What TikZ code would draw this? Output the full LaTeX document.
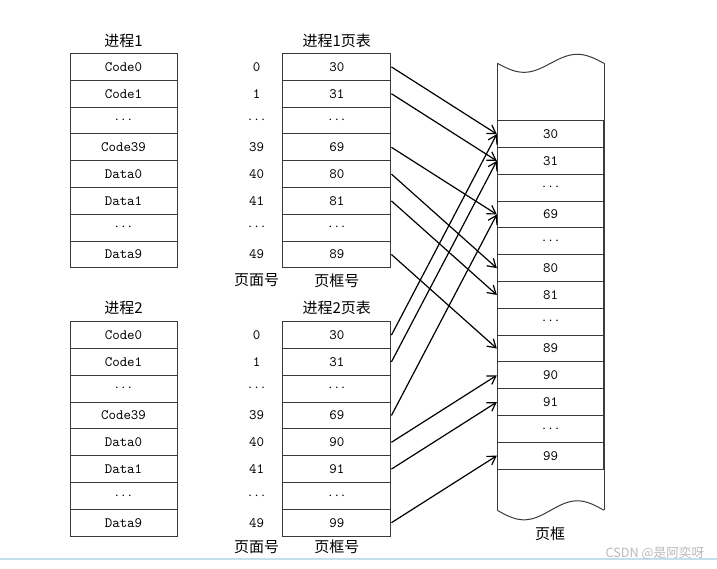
\documentclass[tikz,border=0pt]{standalone}
\usepackage{fontspec}
\newfontfamily\cjk{Noto Sans CJK SC}
\usetikzlibrary{arrows.meta}
\definecolor{linec}{HTML}{3A3A3A}
\definecolor{wmline}{HTML}{C3DFEF}
\begin{document}
\begin{tikzpicture}[x=0.75pt,y=-0.75pt,
  cell/.style={draw=linec,line width=0.75pt,minimum height=20.1pt,inner sep=0pt,
               font=\fontsize{10.7}{12}\selectfont\ttfamily},
  pbox/.style={cell,minimum width=80.25pt},
  tbox/.style={cell,minimum width=81.2pt},
  fbox/.style={cell,minimum width=80pt},
  lbl/.style={inner sep=0pt,font=\fontsize{10.7}{12}\selectfont\ttfamily},
  title/.style={inner sep=0pt,font=\fontsize{11.25}{13}\selectfont\cjk},
  map/.style={draw=black,line width=0.9pt,-{Straight Barb[length=6pt,width=7.5pt]}},
  edge/.style={draw=linec,line width=0.75pt}]
\useasboundingbox (0,0) rectangle (717,568);

% ---------- process 1 ----------
\node[title] (p1t) at (123.5,40.7) {进程1};
\foreach \t [count=\i from 0] in {Code0,Code1,$\cdots$,Code39,Data0,Data1,$\cdots$,Data9}
  \node[pbox] (p1-\i) at (123.5,{66.9+26.8*\i}) {\t};
\node[title] (t1t) at (336.8,40.7) {进程1页表};
\foreach \t [count=\i from 0] in {0,1,$\cdots$,39,40,41,$\cdots$,49}
  \node[lbl] (n1-\i) at (256.7,{66.9+26.8*\i}) {\t};
\foreach \t [count=\i from 0] in {30,31,$\cdots$,69,80,81,$\cdots$,89}
  \node[tbox] (t1-\i) at (336.8,{66.9+26.8*\i}) {\t};
\node[title] (pn1) at (256.7,280.5) {页面号};
\node[title] (fn1) at (336.8,280.5) {页框号};

% ---------- process 2 ----------
\node[title] (p2t) at (123.5,308.3) {进程2};
\foreach \t [count=\i from 0] in {Code0,Code1,$\cdots$,Code39,Data0,Data1,$\cdots$,Data9}
  \node[pbox] (p2-\i) at (123.5,{335.1+26.8*\i}) {\t};
\node[title] (t2t) at (336.8,308.3) {进程2页表};
\foreach \t [count=\i from 0] in {0,1,$\cdots$,39,40,41,$\cdots$,49}
  \node[lbl] (n2-\i) at (256.7,{335.1+26.8*\i}) {\t};
\foreach \t [count=\i from 0] in {30,31,$\cdots$,69,90,91,$\cdots$,99}
  \node[tbox] (t2-\i) at (336.8,{335.1+26.8*\i}) {\t};
\node[title] (pn2) at (256.7,547) {页面号};
\node[title] (fn2) at (336.8,547) {页框号};

% ---------- page frames ----------
\draw[edge] plot[domain=0:1,samples=60,smooth] ({497.3+106.7*\x},{63.3+9*sin(360*\x)});
\draw[edge] plot[domain=0:1,samples=60,smooth] ({497.3+106.7*\x},{510.3+9.5*sin(360*\x)});
\draw[edge] (497.3,63.3) -- (497.3,510.3);
\draw[edge] (604,63.3) -- (604,510.3);
\foreach \t [count=\i from 0] in {30,31,$\cdots$,69,$\cdots$,80,81,$\cdots$,89,90,91,$\cdots$,99}
  \node[fbox] (f-\i) at (550.65,{134.1+26.8*\i}) {\t};
\node[title] (fl) at (550,533.3) {页框};

% ---------- mappings ----------
\foreach \a/\b in {0/0,1/1,3/3,4/5,5/6,7/8}
  \draw[map] (t1-\a.east) -- (f-\b.west);
\foreach \a/\b in {0/0,1/1,3/3,4/9,5/10,7/12}
  \draw[map] (t2-\a.east) -- (f-\b.west);

% ---------- screenshot footer ----------
\coordinate (bl) at (0,559);
\coordinate (br) at (717,559);
\draw[wmline,line width=0.9pt] (bl) -- (br);
\node[inner sep=0pt,text=gray!55,font=\fontsize{9.5}{11}\selectfont\cjk] (wm) at (655,553) {CSDN @是阿奕呀};
\end{tikzpicture}
\end{document}
